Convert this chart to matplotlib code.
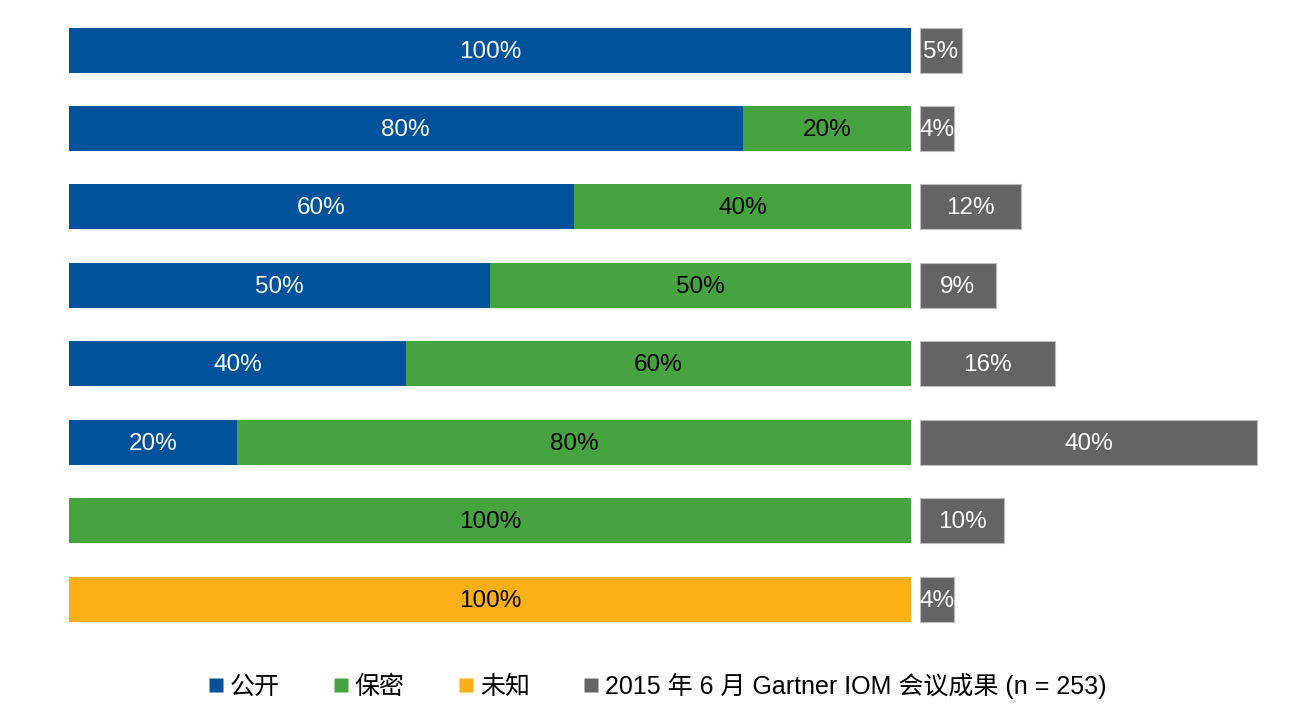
import matplotlib
matplotlib.use("Agg")
import matplotlib.pyplot as plt
from matplotlib.lines import Line2D

plt.rcParams['font.family'] = ['Liberation Sans', 'Noto Sans CJK SC', 'DejaVu Sans']

public = [100, 80, 60, 50, 40, 20, 0, 0]
secret = [0, 20, 40, 50, 60, 80, 100, 0]
unknown = [0, 0, 0, 0, 0, 0, 0, 100]
survey = [5, 4, 12, 9, 16, 40, 10, 4]
legend_labels = ['公开', '保密', '未知', '2015 年 6 月 Gartner IOM 会议成果 (n = 253)']

c_blue = '#00529B'
c_green = '#46A340'
c_yellow = '#FCAF17'
c_gray = '#646464'

W, H = 1300, 707
fig = plt.figure(figsize=(13, 7.07), dpi=100)
x0 = 69
pxper = 8.42
row = 78.43
top_c = 50
ax_top = top_c - row / 2
ax_bot = top_c + 7 * row + row / 2
ax = fig.add_axes([x0 / W, (H - ax_bot) / H, (W - x0) / W, (ax_bot - ax_top) / H])
ax.set_xlim(0, (W - x0) / pxper)
ax.set_ylim(7.5, -0.5)
ax.axis('off')

n = len(public)
ys = list(range(n))
h = 45 / row
fs = 17.5
gap = 9 / pxper

for i in ys:
    left = 0
    for vals, col, tc in [(public, c_blue, 'white'), (secret, c_green, 'black'), (unknown, c_yellow, 'black')]:
        v = vals[i]
        if v > 0:
            ax.barh(i, v, left=left, height=h, color=col, edgecolor='none')
            ax.text(left + v / 2, i + 0.02, f'{v}%', ha='center', va='center', color=tc, fontsize=fs)
            left += v
    s = survey[i]
    ax.barh(i, s, left=100 + gap, height=h, color=c_gray, edgecolor='#BBBBBB', linewidth=0.8)
    ax.text(100 + gap + s / 2, i + 0.02, f'{s}%', ha='center', va='center', color='white', fontsize=fs)

handles = [Line2D([], [], marker='s', linestyle='none', markersize=9.5, markerfacecolor=c, markeredgecolor='none')
           for c in [c_blue, c_green, c_yellow, c_gray]]
fig.legend(handles, legend_labels, loc='center', bbox_to_anchor=(658 / W, 1 - 686 / H), ncol=4,
           frameon=False, fontsize=18, handlelength=0.5, handletextpad=0.3, columnspacing=2.2)

fig.savefig('out.png', dpi=100)
